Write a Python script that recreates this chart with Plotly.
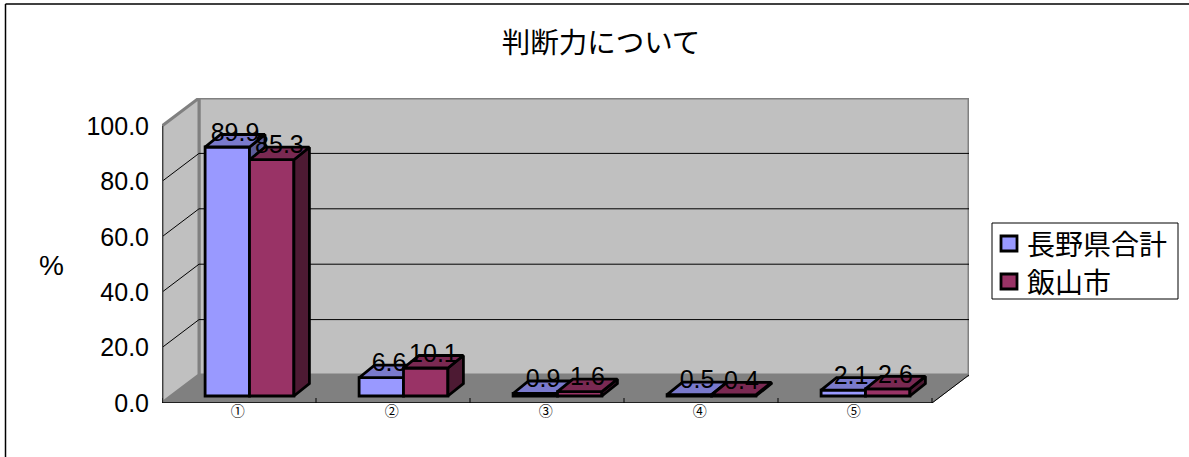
import plotly.graph_objects as go

CATEGORIES = [1, 2, 3, 4, 5]
CAT_LABELS = ["①", "②", "③", "④", "⑤"]
SERIES_A_NAME = "長野県合計"
SERIES_B_NAME = "飯山市"
SERIES_A = [89.9, 6.6, 0.9, 0.5, 2.1]
SERIES_B = [85.3, 10.1, 1.6, 0.4, 2.6]
Y_TICKS = [0, 20, 40, 60, 80, 100]
TITLE = "判断力について"

# chart geometry
PLOT_L, PLOT_R, PLOT_T, PLOT_B = 162, 969, 98, 403
PX_X = 154.0
PX_Y = 2.77
WALL_DX, WALL_DY = 37 / PX_X, 28 / PX_Y
BAR_DX, BAR_DY = 10.5 / PX_X, 7 / PX_Y
TOP_DX, TOP_DY = 15.5 / PX_X, 12.5 / PX_Y
BAR_W = 44.4 / PX_X
X0, X1 = 0.5, 5.5
Y0, Y1 = 0, 100
XR = [X0, X0 + (PLOT_R - PLOT_L) / PX_X]
YR = [Y0, (PLOT_B - PLOT_T) / PX_Y]
CJK = "Noto Sans CJK JP"
LATIN = "Liberation Sans"
EDGE = 2.8

A_FRONT, A_TOP, A_SIDE = "#9999FF", "#7A7ACC", "#5C5C99"
B_FRONT, B_TOP, B_SIDE = "#993366", "#7A2952", "#4D1A33"

fig = go.Figure()


def poly(xs, ys, fill, line="black", width=EDGE, ax=("x", "y")):
    fig.add_trace(go.Scatter(
        x=list(xs) + [xs[0]], y=list(ys) + [ys[0]], mode="lines", fill="toself",
        fillcolor=fill, line=dict(color=line, width=width), xaxis=ax[0], yaxis=ax[1],
        showlegend=False, hoverinfo="skip", cliponaxis=False))


def seg(xs, ys, color="black", width=1.0):
    fig.add_trace(go.Scatter(
        x=xs, y=ys, mode="lines", line=dict(color=color, width=width),
        showlegend=False, hoverinfo="skip", cliponaxis=False))


# walls and floor
WALL = "#C0C0C0"
GRAY = "#808080"
poly([X0 + WALL_DX, X1 + WALL_DX, X1 + WALL_DX, X0 + WALL_DX],
     [Y0 + WALL_DY, Y0 + WALL_DY, Y1 + WALL_DY, Y1 + WALL_DY], WALL, GRAY, 3)
poly([X0, X0 + WALL_DX, X0 + WALL_DX, X0],
     [Y0, Y0 + WALL_DY, Y1 + WALL_DY, Y1], WALL, GRAY, 3)
poly([X0, X1, X1 + WALL_DX, X0 + WALL_DX],
     [Y0, Y0, Y0 + WALL_DY, Y0 + WALL_DY], GRAY, GRAY, 1)
for t in Y_TICKS[1:-1]:
    seg([X0, X0 + WALL_DX, X1 + WALL_DX], [t, t + WALL_DY, t + WALL_DY], "black", 1)
seg([X0, X0], [Y0, Y1], "#404040", 2.5)
seg([X0, X1], [Y0, Y0], "black", 1.5)
seg([X1, X1 + WALL_DX], [Y0, Y0 + WALL_DY], "black", 1)
for c in [X0 + i for i in range(6)]:
    seg([c, c], [Y0, Y0 + 5 / PX_Y], "black", 1)


def series(name, vals, front, top, side, ax, offset):
    fig.add_trace(go.Bar(
        name=name, x=[c + BAR_DX for c in CATEGORIES], y=vals,
        base=[BAR_DY] * len(vals), width=BAR_W, offset=offset,
        marker=dict(color=front, line=dict(color="black", width=EDGE)),
        xaxis=ax[0], yaxis=ax[1], hoverinfo="skip", showlegend=False))
    for c, v in zip(CATEGORIES, vals):
        l = c + BAR_DX + offset
        r = l + BAR_W
        t = BAR_DY + v
        poly([r, r + TOP_DX, r + TOP_DX, r], [BAR_DY, BAR_DY + TOP_DY, t + TOP_DY, t], side, ax=ax)
        poly([l, r, r + TOP_DX, l + TOP_DX], [t, t, t + TOP_DY, t + TOP_DY], top, ax=ax)


series(SERIES_A_NAME, SERIES_A, A_FRONT, A_TOP, A_SIDE, ("x2", "y2"), -BAR_W)
series(SERIES_B_NAME, SERIES_B, B_FRONT, B_TOP, B_SIDE, ("x3", "y3"), 0)

# value labels, centred on the back edge of each bar top
for vals, offset in ((SERIES_A, -BAR_W), (SERIES_B, 0)):
    fig.add_trace(go.Scatter(
        x=[c + BAR_DX + offset + BAR_W / 2 + TOP_DX / 2 for c in CATEGORIES],
        y=[BAR_DY + v + TOP_DY for v in vals],
        text=[f"{v:.1f}" for v in vals], mode="text", textposition="middle center",
        textfont=dict(family=LATIN, size=25, color="black"),
        xaxis="x3", yaxis="y3", showlegend=False, hoverinfo="skip", cliponaxis=False))

W, H = 1189, 457
PW, PH = PLOT_R - PLOT_L, PLOT_B - PLOT_T
px = lambda v: (v - PLOT_L) / PW
py = lambda v: (PLOT_B - v) / PH


def pline(x0, y0, x1, y1):
    return dict(type="line", xref="paper", yref="paper", x0=px(x0), x1=px(x1),
                y0=py(y0), y1=py(y1), line=dict(color="black", width=1.5))


def prect(x0, y0, x1, y1, fill, width):
    return dict(type="rect", xref="paper", yref="paper", x0=px(x0), x1=px(x1),
                y0=py(y0), y1=py(y1), fillcolor=fill, line=dict(color="black", width=width))


def ptext(text, x, y, anchor, family, size):
    return dict(text=text, xref="paper", yref="paper", x=px(x), y=py(y), xanchor=anchor,
                yanchor="middle", showarrow=False, font=dict(family=family, size=size, color="black"))


hidden = dict(visible=False, fixedrange=True)
fig.update_layout(
    width=W, height=H, autosize=False, showlegend=False,
    margin=dict(l=PLOT_L, r=W - PLOT_R, t=PLOT_T, b=H - PLOT_B, pad=0, autoexpand=False),
    paper_bgcolor="white", plot_bgcolor="rgba(0,0,0,0)", barmode="overlay",
    font=dict(family=CJK, color="black"),
    title=dict(text=TITLE, x=601 / W, y=1 - 43 / H, xanchor="center", yanchor="middle",
               font=dict(family=CJK, size=28.5, color="black")),
    xaxis=dict(range=XR, tickmode="array", tickvals=[c - 0.008 for c in CATEGORIES],
               ticktext=CAT_LABELS, showgrid=False, zeroline=False, showline=False, ticks="",
               ticklabelstandoff=-2, tickfont=dict(family=CJK, size=14, color="black")),
    yaxis=dict(range=YR, tickmode="array", tickvals=Y_TICKS,
               ticktext=[f"{t:.1f}" for t in Y_TICKS], showgrid=False, zeroline=False,
               showline=False, ticks="", ticklabelstandoff=12,
               tickfont=dict(family=LATIN, size=25, color="black")),
    xaxis2=dict(range=XR, overlaying="x", **hidden),
    yaxis2=dict(range=YR, overlaying="y", **hidden),
    xaxis3=dict(range=XR, overlaying="x", **hidden),
    yaxis3=dict(range=YR, overlaying="y", **hidden),
    annotations=[
        ptext("%", 51.5, 265, "center", LATIN, 28),
        ptext(SERIES_A_NAME, 1025, 243, "left", CJK, 28),
        ptext(SERIES_B_NAME, 1025, 281, "left", CJK, 28),
    ],
    shapes=[
        pline(5.5, 4, 5.5, H),
        pline(5.5, 4, W, 4),
        prect(992, 223, 1178, 299, "white", 1),
        prect(1001, 236, 1017, 251, A_FRONT, EDGE),
        prect(1001, 274, 1017, 289, B_FRONT, EDGE),
    ],
)

fig.write_html("out.html", config=dict(displayModeBar=False),
               post_script="document.body.style.margin='0';document.body.style.overflow='hidden';")
